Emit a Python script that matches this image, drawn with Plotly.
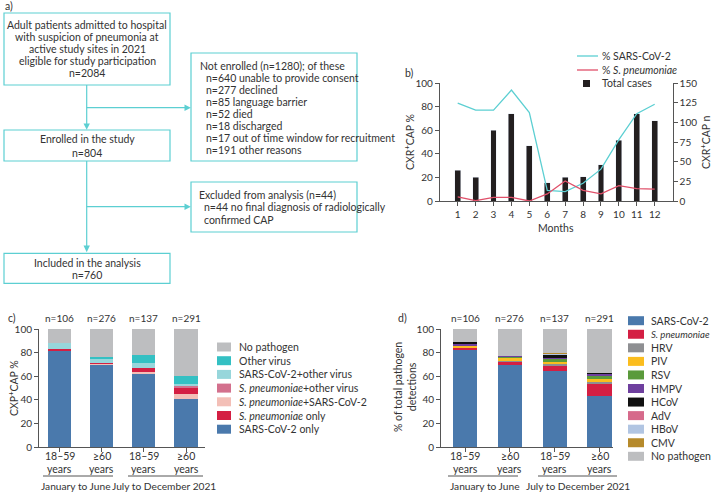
import plotly.graph_objects as go

W, H = 713, 495


def px(x):
    return x / W


def py(y):
    return 1 - y / H


FONT = "Lato, sans-serif"
TXT = "#333333"
AX = "#555555"
CYAN = "#5ccfd2"
FS = 10.5
FS_NUM = 10

# ---------------- Panel b data ----------------
months = list(range(1, 13))
total_cases = [39, 30, 90, 111, 70, 23, 30, 31, 46, 77, 111, 102]
pct_sars = [83, 77, 77, 94, 75, 9, 8, 15, 27, 52, 74, 82]
pct_spn = [3.5, 0.3, 3, 3, 0, 6, 17, 9, 6, 13, 10.5, 10]

# ---------------- Panels c / d shared labels ----------------
age_labels = [["18–59", "years"], ["≥60", "years"], ["18–59", "years"], ["≥60", "years"]]
n_labels = ["n=106", "n=276", "n=137", "n=291"]
period_labels = ["January to June", "July to December 2021"]

# ---------------- Panel c data (stack order bottom -> top) ----------------
c_sars_only = [81.6, 69.5, 61.9, 40.7]
c_spn_sars = [0.0, 0.8, 1.7, 4.2]
c_spn_only = [1.2, 1.1, 3.1, 5.4]
c_spn_other = [0.0, 0.0, 0.3, 1.1]
c_sars_other = [5.6, 2.8, 4.5, 2.0]
c_other_virus = [0.0, 2.0, 6.8, 6.8]
c_no_pathogen = [11.6, 23.8, 21.7, 39.8]

c_stack = [
    ("SARS-CoV-2 only", c_sars_only, "#4a79ac"),
    ("<i>S. pneumoniae</i>+SARS-CoV-2", c_spn_sars, "#f3bfb7"),
    ("<i>S. pneumoniae</i> only", c_spn_only, "#d41f43"),
    ("<i>S. pneumoniae</i>+other virus", c_spn_other, "#d3708d"),
    ("SARS-CoV-2+other virus", c_sars_other, "#97d6db"),
    ("Other virus", c_other_virus, "#34c0c3"),
    ("No pathogen", c_no_pathogen, "#bdbec0"),
]
c_legend_order = [
    "No pathogen", "Other virus", "SARS-CoV-2+other virus",
    "<i>S. pneumoniae</i>+other virus", "<i>S. pneumoniae</i>+SARS-CoV-2",
    "<i>S. pneumoniae</i> only", "SARS-CoV-2 only",
]

# ---------------- Panel d data (stack order bottom -> top) ----------------
d_sars = [82.5, 69.5, 64.0, 43.5]
d_spn = [1.5, 2.8, 4.3, 9.8]
d_hrv = [0.0, 0.8, 2.1, 2.2]
d_piv = [1.8, 2.2, 1.8, 2.5]
d_rsv = [0.0, 0.7, 2.8, 2.2]
d_hmpv = [1.6, 1.0, 0.8, 1.8]
d_hcov = [1.6, 0.0, 1.8, 0.4]
d_adv = [0.0, 0.0, 0.0, 0.0]
d_hbov = [0.0, 0.0, 1.0, 0.0]
d_cmv = [0.0, 0.0, 0.8, 0.0]
d_none = [11.0, 23.0, 20.6, 37.6]

d_stack = [
    ("SARS-CoV-2", d_sars, "#4a79ac"),
    ("<i>S. pneumoniae</i>", d_spn, "#d41f43"),
    ("HRV", d_hrv, "#8e8f92"),
    ("PIV", d_piv, "#fbbd1e"),
    ("RSV", d_rsv, "#5a9a3b"),
    ("HMPV", d_hmpv, "#6e3f9e"),
    ("HCoV", d_hcov, "#111111"),
    ("AdV", d_adv, "#d66a8b"),
    ("HBoV", d_hbov, "#b1c5e2"),
    ("CMV", d_cmv, "#b68a2b"),
    ("No pathogen", d_none, "#bdbec0"),
]

fig = go.Figure()

# ---- panel b traces
fig.add_trace(go.Bar(x=months, y=total_cases, marker_color="#231f20", width=0.33,
                     xaxis="x", yaxis="y", showlegend=False))
fig.add_trace(go.Scatter(x=months, y=pct_sars, mode="lines", line=dict(color="#5ccfd2", width=1.3),
                         xaxis="x", yaxis="y2", showlegend=False))
fig.add_trace(go.Scatter(x=months, y=pct_spn, mode="lines", line=dict(color="#e0506a", width=1.3),
                         xaxis="x", yaxis="y2", showlegend=False))

# ---- panel c traces
idx = list(range(len(age_labels)))
for name, vals, col in c_stack:
    fig.add_trace(go.Bar(x=idx, y=vals, name=name, marker_color=col, marker_line_width=0,
                         width=0.55, xaxis="x2", yaxis="y3", showlegend=False))
# ---- panel d traces
for name, vals, col in d_stack:
    fig.add_trace(go.Bar(x=idx, y=vals, name=name, marker_color=col, marker_line_width=0,
                         width=0.54, xaxis="x3", yaxis="y4", showlegend=False))

axis_common = dict(showline=True, linecolor=AX, linewidth=1, ticks="outside", ticklen=4,
                   tickcolor=AX, showgrid=False, zeroline=False, automargin=False,
                   tickfont=dict(family=FONT, size=FS_NUM, color=TXT), fixedrange=True)

fig.update_layout(
    width=W, height=H, margin=dict(l=0, r=0, t=0, b=0, pad=0, autoexpand=False),
    paper_bgcolor="white", plot_bgcolor="rgba(0,0,0,0)",
    barmode="stack", showlegend=False, hovermode=False,
    font=dict(family=FONT, size=FS, color=TXT),
    xaxis=dict(domain=[px(439.8), px(672.6)], range=[0, 13], anchor="y",
               tickvals=months, **axis_common),
    yaxis=dict(domain=[py(201), py(83)], range=[0, 150], side="right", anchor="x",
               tickvals=[0, 25, 50, 75, 100, 125, 150], **axis_common),
    yaxis2=dict(domain=[py(201), py(83)], range=[0, 100], side="left", anchor="x",
                overlaying="y", tickvals=[0, 20, 40, 60, 80, 100], **axis_common),
    xaxis2=dict(domain=[px(39), px(205)], range=[-0.49, 3.45], anchor="y3",
                tickvals=idx, showticklabels=False, **axis_common),
    yaxis3=dict(domain=[py(447), py(329)], range=[0, 100], anchor="x2",
                tickvals=[0, 20, 40, 60, 80, 100], **axis_common),
    xaxis3=dict(domain=[px(441), px(613)], range=[-0.536, 3.30], anchor="y4",
                tickvals=idx, showticklabels=False, **axis_common),
    yaxis4=dict(domain=[py(447), py(329)], range=[0, 100], anchor="x3",
                tickvals=[0, 20, 40, 60, 80, 100], **axis_common),
)

annotations = []
shapes = []


def ann(text, x, y, xanchor="center", size=FS, xref="paper", **kw):
    annotations.append(dict(text=text, x=x if xref != "paper" else px(x), y=py(y),
                            xref=xref, yref="paper", xanchor=xanchor, yanchor="middle",
                            showarrow=False, font=dict(family=FONT, size=size, color=TXT), **kw))


def rect(x0, y0, x1, y1, line=None, fill=None):
    shapes.append(dict(type="rect", xref="paper", yref="paper", x0=px(x0), x1=px(x1),
                       y0=py(y0), y1=py(y1),
                       line=dict(color=line, width=1.2) if line else dict(width=0),
                       fillcolor=fill if fill else "rgba(0,0,0,0)"))


def line(x0, y0, x1, y1, color=CYAN, width=1.2):
    shapes.append(dict(type="line", xref="paper", yref="paper", x0=px(x0), x1=px(x1),
                       y0=py(y0), y1=py(y1), line=dict(color=color, width=width)))


def tri(points, color=CYAN):
    path = "M " + " L ".join(f"{px(a)},{py(b)}" for a, b in points) + " Z"
    shapes.append(dict(type="path", xref="paper", yref="paper", path=path,
                       fillcolor=color, line=dict(width=0)))


# ---------------- Panel a: flowchart ----------------
ann("a)", 3, 6, xanchor="left")
rect(4, 13, 170, 85, line=CYAN)
box1 = ["Adult patients admitted to hospital", "with suspicion of pneumonia at",
        "active study sites in 2021", "eligible for study participation", "n=2084"]
for i, t in enumerate(box1):
    ann(t, 87, 25 + 12.1 * i)

rect(191, 53, 357, 161, line=CYAN)
box2 = ["Not enrolled (n=1280); of these", "  n=640 unable to provide consent",
        "  n=277 declined", "  n=85 language barrier", "  n=52 died", "  n=18 discharged",
        "  n=17 out of time window for recruitment", "  n=191 other reasons"]
for i, t in enumerate(box2):
    ann(t.strip(), 198 if i == 0 else 204, 65.7 + 12.05 * i, xanchor="left")

rect(4, 130, 170, 161, line=CYAN)
ann("Enrolled in the study", 87, 139.3)
ann("n=804", 87, 153.3)

rect(191, 182, 357, 232, line=CYAN)
ann("Excluded from analysis (n=44)", 197, 195, xanchor="left")
ann("n=44 no final diagnosis of radiologically", 202, 207.2, xanchor="left")
ann("confirmed CAP", 202, 219.5, xanchor="left")

rect(4, 253.3, 170, 283.3, line=CYAN)
ann("Included in the analysis", 87, 262.7)
ann("n=760", 87, 275)

# connectors
line(86.7, 85, 86.7, 125)
tri([(83.5, 123.5), (89.9, 123.5), (86.7, 129.8)])
line(86.7, 107.7, 186, 107.7)
tri([(184.5, 104.5), (184.5, 110.9), (190.8, 107.7)])
line(86.7, 161, 86.7, 248)
tri([(83.5, 245.5), (89.9, 245.5), (86.7, 252.3)])
line(86.7, 206.7, 186, 206.7)
tri([(184.5, 203.5), (184.5, 209.9), (190.8, 206.7)])

# ---------------- Panel b annotations ----------------
ann("b)", 403, 73, xanchor="left")
ann("CXR<sup>+</sup>CAP %", 409, 142, textangle=-90)
ann("CXR<sup>+</sup>CAP n", 705, 142, textangle=-90)
ann("Months", 556, 228)
line(577, 56, 598, 56, color="#5ccfd2", width=1.3)
ann("% SARS-CoV-2", 600, 56, xanchor="left")
line(577, 70, 598, 70, color="#e0506a", width=1.3)
ann("% <i>S. pneumoniae</i>", 600, 70, xanchor="left")
rect(583, 80, 590, 87, fill="#231f20")
ann("Total cases", 600, 83, xanchor="left")

# ---------------- Panel c annotations ----------------
ann("c)", 6, 318, xanchor="left")
ann("CXP<sup>+</sup>CAP %", 13, 388, textangle=-90)
for i, t in enumerate(n_labels):
    ann(t, i, 318, xref="x2", size=FS_NUM)
for i, (l1, l2) in enumerate(age_labels):
    ann(l1, i, 456, xref="x2")
    ann(l2, i, 469, xref="x2")
c_colors = {n: col for n, _, col in c_stack}
for i, name in enumerate(c_legend_order):
    y = 347 + 13.7 * i
    rect(217, y - 4.5, 231, y + 4.5, fill=c_colors[name])
    ann(name, 237, y, xanchor="left")
line(43, 476, 113, 476, color=AX, width=1)
line(128, 476, 203, 476, color=AX, width=1)
ann(period_labels[0], 76, 486, size=10.2)
ann(period_labels[1], 164, 486, size=10.2)

# ---------------- Panel d annotations ----------------
ann("d)", 396, 318, xanchor="left")
ann("% of total pathogen<br>detections", 405, 387, textangle=-90)
for i, t in enumerate(n_labels):
    ann(t, i, 318, xref="x3", size=FS_NUM)
for i, (l1, l2) in enumerate(age_labels):
    ann(l1, i, 456, xref="x3")
    ann(l2, i, 469, xref="x3")
for i, (name, _, col) in enumerate(d_stack):
    y = 320.7 + 13.56 * i
    rect(628, y - 4.5, 644, y + 4.5, fill=col)
    ann(name, 649, y, xanchor="left", size=9.6 if "<i>" in name else FS)
line(448, 476, 518, 476, color=AX, width=1)
line(538, 476, 617, 476, color=AX, width=1)
ann(period_labels[0], 485, 486, size=10.2)
ann(period_labels[1], 578, 486, size=10.2)

fig.update_layout(annotations=annotations, shapes=shapes)
fig.write_html("out.html", config={"displayModeBar": False, "staticPlot": True},
               post_script="document.body.style.margin='0';document.body.style.padding='0';"
                           "document.body.style.overflow='hidden';")
